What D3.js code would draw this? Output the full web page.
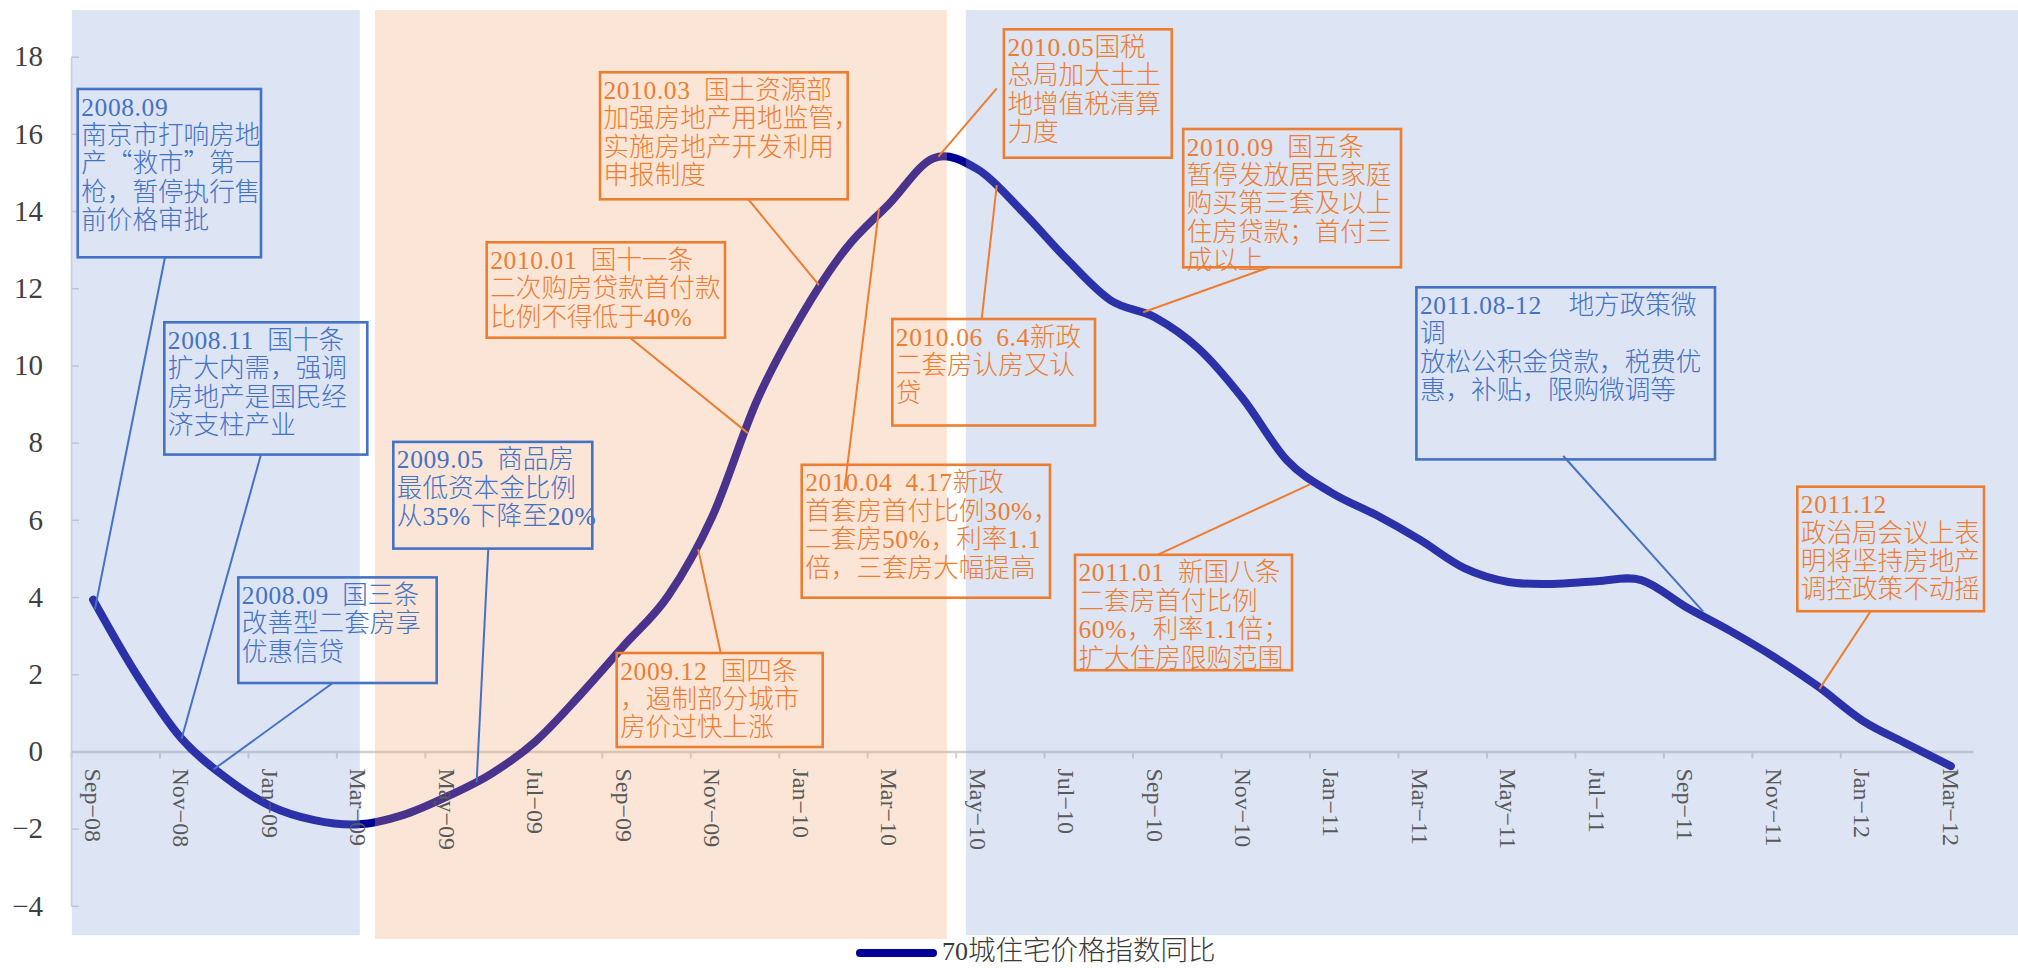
<!DOCTYPE html>
<html>
<head>
<meta charset="utf-8">
<script src="https://cdn.jsdelivr.net/npm/d3@7"></script>
<style>
  html, body { margin: 0; padding: 0; background: #ffffff; }
  svg { display: block; }
</style>
</head>
<body>
<svg id="chart" width="2018" height="968"></svg>
<script>
// Monthly categories, Sep-08 .. Mar-12
const months = [
  "Sep-08","Oct-08","Nov-08","Dec-08",
  "Jan-09","Feb-09","Mar-09","Apr-09","May-09","Jun-09","Jul-09","Aug-09","Sep-09","Oct-09","Nov-09","Dec-09",
  "Jan-10","Feb-10","Mar-10","Apr-10","May-10","Jun-10","Jul-10","Aug-10","Sep-10","Oct-10","Nov-10","Dec-10",
  "Jan-11","Feb-11","Mar-11","Apr-11","May-11","Jun-11","Jul-11","Aug-11","Sep-11","Oct-11","Nov-11","Dec-11",
  "Jan-12","Feb-12","Mar-12"
];

// 70-city residential price index, year-on-year change (%)
const yoy = [
  3.93, 1.96, 0.33, -0.68,
  -1.41, -1.78, -1.89, -1.65, -1.17, -0.58, 0.26, 1.45, 2.74, 4.03, 6.09, 9.07,
  11.26, 13.0, 14.19, 15.37, 15.08, 14.0, 12.77, 11.69, 11.25, 10.43, 9.13, 7.53,
  6.7, 6.13, 5.48, 4.75, 4.39, 4.34, 4.41, 4.44, 3.75, 3.13, 2.45, 1.68,
  0.8, 0.2, -0.38
];

const seriesName = "70城住宅价格指数同比";
const yTicks = [-4, -2, 0, 2, 4, 6, 8, 10, 12, 14, 16, 18];
const xTickMonths = months.filter((m, i) => i % 2 === 0);

// Policy periods (month index range): easing / tightening / easing
const periods = [
  { tone: "blue",   from: -0.48, to: 6.03,  top: 19.21, bottom: -4.76 },
  { tone: "orange", from: 6.37,  to: 19.30, top: 19.21, bottom: -4.86 },
  { tone: "blue",   from: 19.73, to: 43.52, top: 19.21, bottom: -4.76 }
];

// Policy notes: text lines and the point on the curve each one refers to [month index, value]
const notes = [
  { tone: "blue",   at: [0.04, 3.68],   lines: ["2008.09", "南京市打响房地", "产“救市”第一", "枪，暂停执行售", "前价格审批"] },
  { tone: "blue",   at: [2.0, 0.33],    lines: ["2008.11 国十条", "扩大内需，强调", "房地产是国民经", "济支柱产业"] },
  { tone: "blue",   at: [2.72, -0.47],  lines: ["2008.09 国三条", "改善型二套房享", "优惠信贷"] },
  { tone: "blue",   at: [8.67, -0.80],  lines: ["2009.05 商品房", "最低资本金比例", "从35%下降至20%"] },
  { tone: "orange", at: [13.68, 5.24],  lines: ["2009.12 国四条", "，遏制部分城市", "房价过快上涨"] },
  { tone: "orange", at: [14.81, 8.24],  lines: ["2010.01 国十一条", "二次购房贷款首付款", "比例不得低于40%"] },
  { tone: "orange", at: [16.41, 12.08], lines: ["2010.03 国土资源部", "加强房地产用地监管，", "实施房地产开发利用", "申报制度"] },
  { tone: "orange", at: [17.77, 14.07], lines: ["2010.04 4.17新政", "首套房首付比例30%，", "二套房50%，利率1.1", "倍，三套房大幅提高"] },
  { tone: "orange", at: [19.11, 15.41], lines: ["2010.05国税", "总局加大土土", "地增值税清算", "力度"] },
  { tone: "orange", at: [20.43, 14.67], lines: ["2010.06 6.4新政", "二套房认房又认", "贷"] },
  { tone: "orange", at: [23.74, 11.38], lines: ["2010.09 国五条", "暂停发放居民家庭", "购买第三套及以上", "住房贷款；首付三", "成以上"] },
  { tone: "orange", at: [27.51, 6.92],  lines: ["2011.01 新国八条", "二套房首付比例", "60%，利率1.1倍；", "扩大住房限购范围"] },
  { tone: "blue",   at: [36.40, 3.62],  lines: ["2011.08-12  地方政策微", "调", "放松公积金贷款，税费优", "惠，补贴，限购微调等"] },
  { tone: "orange", at: [39.03, 1.62],  lines: ["2011.12", "政治局会议上表", "明将坚持房地产", "调控政策不动摇"] }
];

// Note box placement: [left, top, right, bottom, leader start x, leader start y]
const noteBoxes = [
  [77.7, 89, 261, 257.3, 165, 257.3],
  [164.3, 322.3, 367.3, 454.6, 261, 454.6],
  [238.3, 577.4, 436.7, 683, 332.7, 683],
  [393.3, 441.9, 592.3, 548.6, 488.3, 548.6],
  [616.7, 653, 822.7, 747, 720.7, 653],
  [486.7, 242.3, 725, 337.7, 630, 337.7],
  [600, 72.3, 847.7, 199.3, 748.3, 199.3],
  [801.7, 464.8, 1050, 597.7, 844.5, 489],
  [1003.9, 29.3, 1171.8, 157.7, 996.8, 88.3],
  [892.3, 319, 1095, 425.5, 981.7, 319],
  [1183.2, 129, 1401, 267.3, 1269.3, 267.3],
  [1075, 554.8, 1292, 670.2, 1157.5, 554.8],
  [1416.4, 287.3, 1715, 459.4, 1563.3, 456],
  [1797.3, 486.7, 1984, 611.2, 1870.7, 611.2]
];

const toneInk = { blue: "#4472C4", orange: "#ED7D31" };
const toneShade = { blue: "rgb(142,165,215)", orange: "rgb(242,168,122)" };
const lineColor = "#000096";
const axisColor = "#d0d0d0";
const latinFont = "'Liberation Serif', 'Times New Roman', serif";
const cjkFont = "'Noto Sans CJK SC', 'Noto Sans CJK JP', sans-serif";

const svg = d3.select("#chart");

// Scales
const x = d3.scaleBand().domain(months).range([71, 1973]).paddingInner(0).paddingOuter(0);
const bw = x.bandwidth();
const xi = d3.scaleLinear()
  .domain([0, months.length - 1])
  .range([x(months[0]) + bw / 2, x(months[months.length - 1]) + bw / 2]);
const xEdge = d3.scaleLinear().domain([0, months.length]).range([71, 1973]);
const y = d3.scaleLinear().domain([-4, 18]).range([905.8, 56.7]);

// Category axis: domain line at zero with ticks between every second month
const gx = svg.append("g")
  .attr("transform", `translate(0,${y(0)})`)
  .call(d3.axisBottom(xEdge)
    .tickValues(d3.range(0, months.length, 2))
    .tickSize(7).tickSizeOuter(0).tickFormat(""));
gx.select(".domain").attr("stroke", axisColor).attr("stroke-width", 2.5);
gx.selectAll(".tick line").attr("stroke", axisColor).attr("stroke-width", 2);

// Value axis
const gy = svg.append("g")
  .attr("transform", "translate(71,0)")
  .call(d3.axisLeft(y)
    .tickValues(yTicks)
    .tickSizeInner(-8).tickSizeOuter(0).tickPadding(28)
    .tickFormat(d => d < 0 ? "\u2212" + Math.abs(d) : String(d)));
gy.select(".domain").attr("stroke", axisColor).attr("stroke-width", 1.5);
gy.selectAll(".tick line").attr("stroke", axisColor).attr("stroke-width", 1.5);
gy.selectAll(".tick text")
  .attr("font-family", latinFont).attr("font-size", 29).attr("fill", "#404040");

// Series line
const line = d3.line()
  .x((d, i) => x(months[i]) + bw / 2)
  .y(d => y(d))
  .curve(d3.curveCardinal.tension(0));
svg.append("path")
  .datum(yoy)
  .attr("d", line)
  .attr("fill", "none")
  .attr("stroke", lineColor)
  .attr("stroke-width", 8)
  .attr("stroke-linecap", "round")
  .attr("stroke-linejoin", "round");

// Translucent period shading laid over the curve
svg.append("g").selectAll("rect")
  .data(periods)
  .join("rect")
  .attr("x", d => xi(d.from))
  .attr("y", d => y(d.top))
  .attr("width", d => xi(d.to) - xi(d.from))
  .attr("height", d => y(d.bottom) - y(d.top))
  .attr("fill", d => toneShade[d.tone])
  .attr("fill-opacity", 0.3);

// Month labels, rotated
const gxl = svg.append("g")
  .attr("transform", `translate(0,${y(0)})`)
  .call(d3.axisBottom(x).tickValues(xTickMonths).tickSize(0)
    .tickFormat(m => m.replace("-", "\u2212")));
gxl.select(".domain").remove();
gxl.selectAll(".tick text")
  .attr("transform", "rotate(90)")
  .attr("x", 17).attr("y", 0).attr("dy", "0.34em")
  .attr("text-anchor", "start")
  .attr("font-family", latinFont).attr("font-size", 24)
  .attr("fill", "#595959");

// Splits a line into Latin and CJK runs so each uses its own face
function runs(str) {
  return str.replace(/ /g, "\u2002").match(/[\x21-\x7E\u2002]+|[^\x21-\x7E\u2002]+/g) || [];
}
const isLatin = r => /^[\x21-\x7E\u2002]+$/.test(r);

// Policy note boxes with leader lines; each note is one text block of stacked lines
const gNotes = svg.append("g");
notes.forEach((n, k) => {
  const [x0, y0, x1, y1, lx, ly] = noteBoxes[k];
  const ink = toneInk[n.tone];
  const g = gNotes.append("g");
  g.append("line")
    .attr("x1", lx).attr("y1", ly)
    .attr("x2", xi(n.at[0])).attr("y2", y(n.at[1]))
    .attr("stroke", ink).attr("stroke-width", 2);
  g.append("rect")
    .attr("x", x0).attr("y", y0)
    .attr("width", x1 - x0).attr("height", y1 - y0)
    .attr("fill", "none").attr("stroke", ink).attr("stroke-width", 2.6);
  const t = g.append("text")
    .attr("fill", ink)
    .style("white-space", "pre");
  n.lines.forEach((ln, j) => {
    runs(ln).forEach((r, q) => {
      const latin = isLatin(r);
      const s = t.append("tspan")
        .attr("font-family", latin ? latinFont : cjkFont)
        .attr("font-size", latin ? 25.5 : 25.6)
        .attr("font-weight", latin ? 400 : 300)
        .attr("letter-spacing", latin ? 0.6 : 0)
        .text(r);
      if (q === 0) s.attr("x", x0 + 3.5).attr("y", y0 + 26.5 + j * 28.4);
    });
  });
});

// Legend
const gLeg = svg.append("g");
gLeg.append("line")
  .attr("x1", 860).attr("x2", 933)
  .attr("y1", 953).attr("y2", 953)
  .attr("stroke", lineColor).attr("stroke-width", 8).attr("stroke-linecap", "round");
const legText = gLeg.append("text").attr("x", 942).attr("y", 960).attr("fill", "#3a3a3a");
runs(seriesName).forEach(r => {
  const latin = isLatin(r);
  legText.append("tspan")
    .attr("font-family", latin ? latinFont : cjkFont)
    .attr("font-size", latin ? 26 : 27.5)
    .attr("font-weight", latin ? 400 : 300)
    .text(r);
});
</script>
</body>
</html>
